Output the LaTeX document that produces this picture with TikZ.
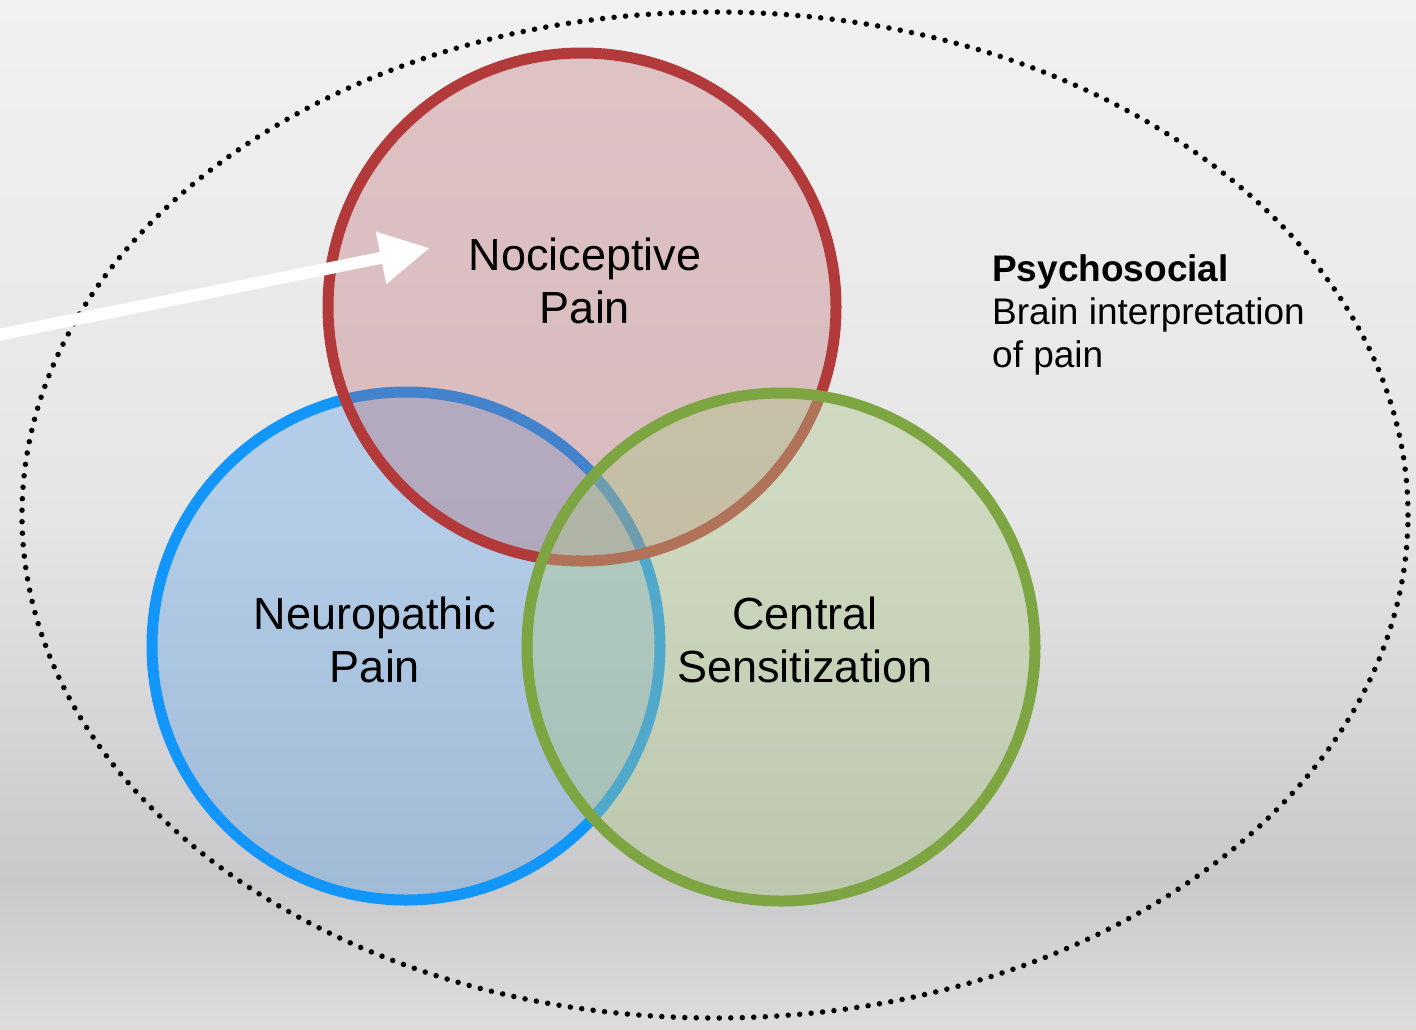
\documentclass[tikz,border=0pt]{standalone}
\usepackage{fontspec}
\setmainfont{Liberation Sans}
\usetikzlibrary{arrows.meta}
\definecolor{bgA}{RGB}{241,241,241}
\definecolor{bgB}{RGB}{229,229,230}
\definecolor{bgC}{RGB}{201,201,203}
\definecolor{bgD}{RGB}{221,221,222}
\definecolor{redstroke}{RGB}{178,58,58}
\definecolor{redfill}{RGB}{183,90,97}
\definecolor{bluestroke}{RGB}{18,150,250}
\definecolor{bluefill}{RGB}{103,168,235}
\definecolor{greenstroke}{RGB}{125,165,65}
\definecolor{greenfill}{RGB}{173,198,133}
\tikzset{
  vcircle/.style={circle, minimum size=508pt, inner sep=0pt, line width=11pt},
  biglabel/.style={align=center, font=\fontsize{45}{53}\selectfont, text=black, inner sep=0pt},
  sidelabel/.style={align=left, font=\fontsize{37}{43}\selectfont, text=black, inner sep=0pt},
  dotline/.style={draw=black, line width=5.5pt, line cap=round, dash pattern=on 0pt off 11.5pt},
  whitearrow/.style={draw=white, line width=12pt, -{Triangle[length=50pt,width=50pt]}}
}
\begin{document}
\begin{tikzpicture}[x=1pt,y=-1pt]
\useasboundingbox (0,0) rectangle (1416,1029);
% background
\shade[top color=bgA, bottom color=bgB] (0,0) rectangle (1416,521);
\shade[top color=bgB, bottom color=bgC] (0,520) rectangle (1416,881);
\shade[top color=bgC, bottom color=bgD] (0,880) rectangle (1416,1029);
% dotted outer ellipse
\draw[dotline] (715,515) ellipse [x radius=693pt, y radius=503pt];
% circles
\node[vcircle, fill=bluefill, fill opacity=0.4, draw=bluestroke] (neuro) at (406,646) {};
\node[vcircle, fill=redfill, fill opacity=0.3, draw=redstroke] (noci) at (582,307) {};
\node[vcircle, fill=greenfill, fill opacity=0.4, draw=greenstroke] (central) at (781,647) {};
% arrow
\coordinate (arrowstart) at (-12,337);
\coordinate (arrowtip) at (430,248);
\draw[whitearrow] (arrowstart) -- (arrowtip);
% labels (base anchor = baseline of the last line)
\node[biglabel, anchor=base] (nocitext) at (585,323) {Nociceptive\\Pain};
\node[biglabel, anchor=base] (neurotext) at (375,682) {Neuropathic\\Pain};
\node[biglabel, anchor=base] (centraltext) at (805,682) {Central\\Sensitization};
\node[sidelabel, anchor=base west] (psytext) at (992,367) {\textbf{Psychosocial}\\Brain interpretation\\of pain};
\end{tikzpicture}
\end{document}
